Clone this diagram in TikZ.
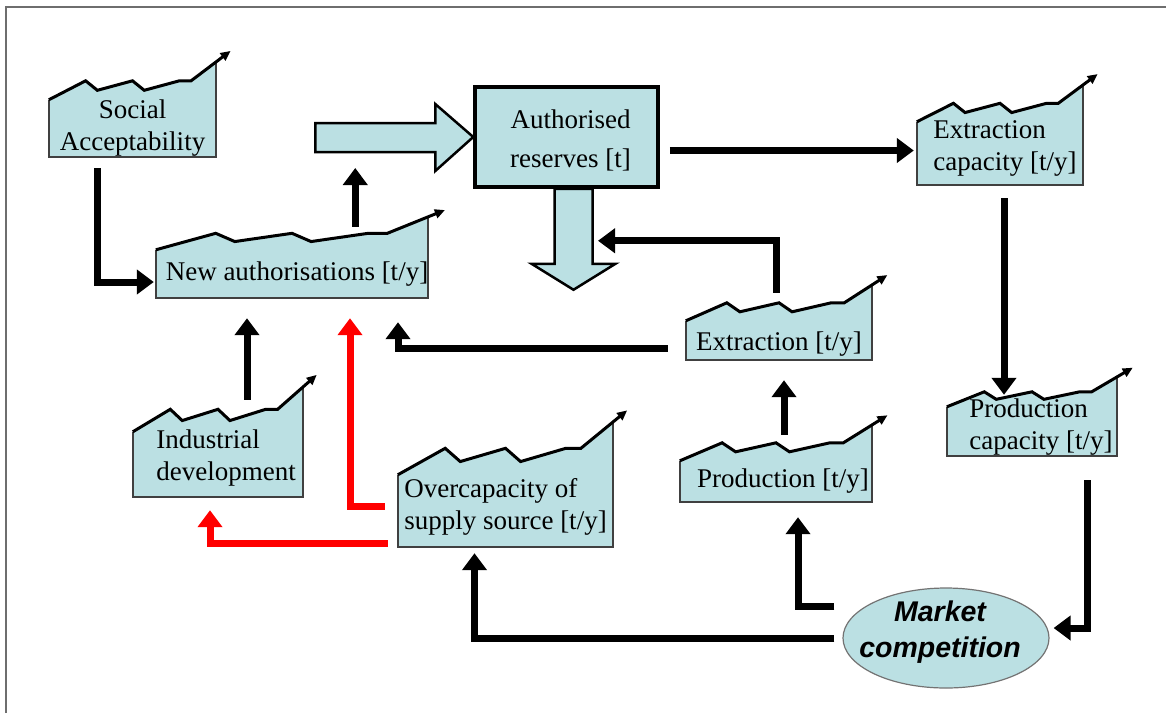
\documentclass[tikz,border=0pt]{standalone}
\usepackage{fontspec}
\setmainfont{Liberation Serif}
\newfontfamily\arialfont{Liberation Sans}
\usetikzlibrary{arrows.meta, calc, fit, shapes.geometric}
\definecolor{boxblue}{HTML}{BBE0E3}
\definecolor{frameg}{HTML}{6E6E6E}
\tikzset{
  every picture/.style={font=\fontsize{27}{32}\selectfont},
  trendbody/.style={inner sep=0pt, draw=none},
  trendedge/.style={draw=black!75, line width=1.5pt},
  trendline/.style={draw=black, line width=3pt, line join=miter, -{Triangle[length=10pt,width=9pt]}},
  boxtext/.style={inner sep=0pt, align=center},
  stock/.style={draw=black, fill=boxblue, line width=3.5pt, inner sep=0pt, align=center, font=\fontsize{27}{39}\selectfont},
  bigarrow/.style={draw=black, fill=boxblue, line width=2.5pt, line join=miter},
  flow/.style={draw=black, line width=7pt, -{Triangle[length=17pt,width=24pt]}},
  redflow/.style={flow, draw=red},
  frame/.style={draw=frameg, line width=2pt},
}
% chart-like box: [text options]{name}{left}{right}{top}{bottom}{rise}{text}
\newcommand\trendbox[8][]{%
  \node[trendbody, fit={(#3,#5) (#4,#6)}] (#2) {};
  \pgfmathsetmacro\jaghi{#7/2}%
  \pgfmathsetmacro\jaglo{#7/4}%
  \coordinate (#2-1) at ($(#2.north west)!.22!(#2.north east)+(0,-\jaghi)$);
  \coordinate (#2-2) at ($(#2.north west)!.29!(#2.north east)+(0,-\jaglo)$);
  \coordinate (#2-3) at ($(#2.north west)!.50!(#2.north east)+(0,-\jaghi)$);
  \coordinate (#2-4) at ($(#2.north west)!.57!(#2.north east)+(0,-\jaglo)$);
  \coordinate (#2-5) at ($(#2.north west)!.78!(#2.north east)+(0,-\jaghi)$);
  \coordinate (#2-6) at ($(#2.north west)!.85!(#2.north east)+(0,-\jaghi)$);
  \coordinate (#2-7) at ($(#2.north east)+(0,-#7)$);
  \fill[boxblue] (#2.south west) -- (#2.north west) -- (#2-1) -- (#2-2) -- (#2-3) -- (#2-4)
    -- (#2-5) -- (#2-6) -- (#2-7) -- (#2.south east) -- cycle;
  \draw[trendedge] (#2.north west) -- (#2.south west) -- (#2.south east) -- (#2-7);
  \draw[trendline] (#2.north west) -- (#2-1) -- (#2-2) -- (#2-3) -- (#2-4) -- (#2-5)
    -- (#2-6) -- (#2-7) -- ($(#2-7)!-18pt!(#2-6)$);
  \node[boxtext, #1] (#2-t) at (#2) {#8};
}

\begin{document}
\begin{tikzpicture}[x=1pt, y=-1pt]
  \useasboundingbox (0,0) rectangle (1166,713);
  \draw[frame] (6,713) -- (6,7) -- (1166,7);

  % boxes
  \trendbox{soc}{49}{216}{100}{157}{38}{Social\\Acceptability}
  \trendbox[xshift=5pt]{na}{156}{428}{250}{298}{33}{New authorisations [t/y]}
  \trendbox[align=left, xshift=5pt, yshift=5pt]{ec}{917}{1083}{122}{185}{37}{Extraction\\capacity [t/y]}
  \trendbox[yshift=-4pt]{ex}{686}{872}{321}{360}{36}{Extraction [t/y]}
  \trendbox[align=left, xshift=9pt, yshift=4pt]{pc}{947}{1117}{407}{456}{30}{Production\\capacity [t/y]}
  \trendbox[align=left, xshift=8pt, yshift=7pt]{ind}{133}{303}{432}{497}{45}{Industrial\\development}
  \trendbox[align=left, yshift=4pt]{oc}{398}{613}{475}{547}{53}{Overcapacity of\\supply source [t/y]}
  \trendbox[xshift=7pt]{pr}{680}{872}{461}{502}{36}{Production [t/y]}
  \node[stock, minimum width=183pt, minimum height=100pt] (ar) at (566.5,137) {};
  \node[boxtext, font=\fontsize{27}{39}\selectfont] (ar-t) at ($(ar)+(4,3)$) {Authorised\\reserves [t]};
  \node[ellipse, fill=boxblue, draw=black!55, line width=1.2pt, minimum width=206pt, minimum height=100pt] (mc) at (946,638) {};
  \node[boxtext, font=\arialfont\bfseries\itshape\fontsize{28.5}{36}\selectfont] (mc-t) at ($(mc)+(-6,-6)$) {Market\\competition};

  % in- and outflow of the reserves
  \draw[bigarrow] (ar.west) -- ++(-38,-33) -- ++(0,19) -- ++(-120,0) -- ++(0,29)
    -- ++(120,0) -- ++(0,19) -- cycle;
  \draw[bigarrow] ($(ar.south)+(-12,0)$) -- ++(0,75) -- ++(-23,0) -- ++(42,26)
    -- ++(42,-26) -- ++(-23,0) -- ++(0,-75) -- cycle;
  \coordinate (inb) at ($(ar.west)+(-118,15)$);
  \coordinate (outr) at ($(ar.south)+(26.5,52)$);

  % links
  \draw[flow] ($(soc.south)+(-35,11)$) |- ($(na.west)+(-2,8)$);
  \draw[flow] ($(inb |- na.north)+(0,-23)$) -- ($(inb)+(0,16)$);
  \draw[flow] ($(ar.east |- ec.west)+(10,-3)$) -- ($(ec.west)+(-3,-3)$);
  \draw[flow] ($(ex.north)+(-3,-28)$) |- ($(outr)+(5,0)$);
  \draw[flow] ($(ex.west)+(-18,8)$) -| ($(na.south)+(106,24)$);
  \draw[flow] ($(ec.south)+(4,13)$) -- ($(ec.south |- pc.north)+(4,-12)$);
  \draw[flow] ($(pc.south)+(55,24)$) |- ($(mc.east)+(4,-10)$);
  \draw[flow] ($(mc.west)+(-8,-32)$) -| ($(pr.south)+(22,15)$);
  \draw[flow] ($(mc.west)+(-8,0)$) -| ($(oc.south)+(-31,6)$);
  \draw[flow] ($(pr.north)+(8,-26)$) -- ($(pr.north |- ex.south)+(8,20)$);
  \draw[flow] ($(ind.north)+(29,-32)$) -- ($(ind.north |- na.south)+(29,20)$);
  \draw[redflow] ($(oc.west)+(-13,-5)$) -| ($(na.south)+(58,20)$);
  \draw[redflow] ($(oc.west)+(-10,32)$) -| ($(ind.south)+(-8,13)$);
\end{tikzpicture}
\end{document}
